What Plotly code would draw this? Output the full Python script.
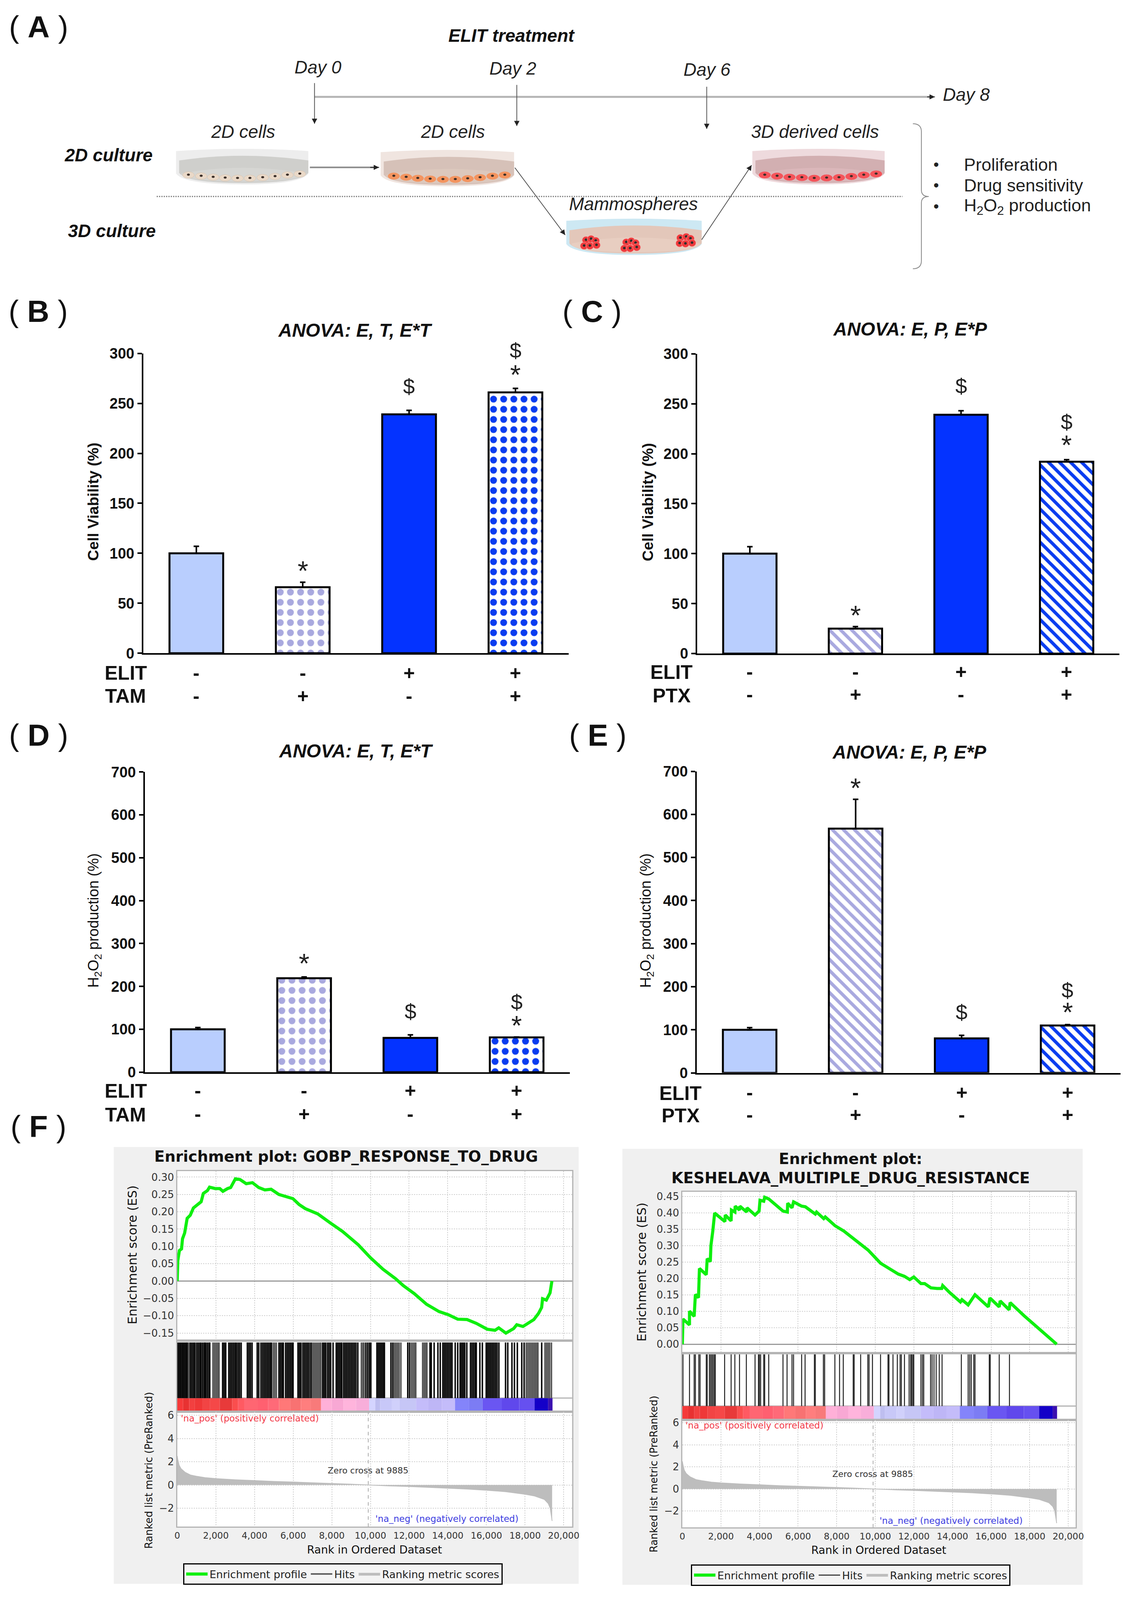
import plotly.graph_objects as go

# the browser only shows 4096 px of height, so the layout is squeezed to that
W, H = 2890, 4080
PAGE = 8  # default margin of the page body
VS = 4096 / 4358
SANS = "Liberation Sans"
JAVA = "DejaVu Sans"

# bar panels
cats_t = ["Control", "TAM", "ELIT", "ELIT+TAM"]
cats_p = ["Control", "PTX", "ELIT", "ELIT+PTX"]
elit_signs = ["-", "-", "+", "+"]
drug_signs = ["-", "+", "-", "+"]

viab_t = [100, 66, 239, 261]
viab_t_err = [7, 5, 4, 4]
viab_p = [100, 25, 239, 192]
viab_p_err = [7, 2, 4, 2]
h2o2_t = [100, 219, 80, 81]
h2o2_t_err = [4, 3, 7, 1]
h2o2_p = [100, 567, 80, 110]
h2o2_p_err = [5, 68, 7, 2]

sig_b_x = ["TAM", "ELIT", "ELIT+TAM", "ELIT+TAM"]
sig_b_y = [87.6, 267, 303, 284]
sig_b_text = ["*", "$", "$", "*"]
sig_c_x = ["PTX", "ELIT", "ELIT+PTX", "ELIT+PTX"]
sig_c_y = [43.6, 268, 232, 214]
sig_c_text = ["*", "$", "$", "*"]
sig_d_x = ["TAM", "ELIT", "ELIT+TAM", "ELIT+TAM"]
sig_d_y = [266, 142, 164, 121]
sig_d_text = ["*", "$", "$", "*"]
sig_e_x = ["PTX", "ELIT", "ELIT+PTX", "ELIT+PTX"]
sig_e_y = [673, 141, 192, 153]
sig_e_text = ["*", "$", "$", "*"]

# enrichment plots
es1_rank = [0, 32, 113, 225, 274, 386, 515, 676, 837, 998, 1239, 1352, 1561, 1673, 1963, 2204, 2365, 2607,
            2767, 3009, 3250, 3572, 3894, 4216, 4537, 4859, 5261, 5985, 6307, 6629, 7273, 7916, 8560, 9364,
            10008, 10652, 11295, 11697, 12261, 12904, 13548, 14030, 14513, 14996, 15478, 16042, 16444, 16637,
            17007, 17409, 17570, 17892, 18133, 18455, 18697, 18857, 18906, 19099, 19292, 19388]
es1_val = [0, .059, .088, .093, .122, .139, .181, .190, .211, .219, .229, .253, .261, .271, .267, .267, .259,
           .267, .270, .295, .293, .281, .284, .270, .263, .265, .250, .238, .221, .209, .194, .168, .143, .105,
           .067, .034, .007, -.013, -.036, -.067, -.088, -.097, -.110, -.111, -.122, -.139, -.142, -.135, -.150,
           -.137, -.126, -.131, -.122, -.111, -.093, -.076, -.051, -.055, -.034, 0]
es2_rank = [0, 32, 370, 370, 612, 644, 676, 837, 886, 1240, 1288, 1449, 1481, 1578, 1674, 2206, 2222, 2528, 2544,
            2721, 2737, 2962, 2979, 3333, 3349, 3767, 3977, 4025, 4218, 4267, 4476, 5216, 5442, 5458, 5683, 5764,
            6182, 6376, 6891, 6955, 7326, 7406, 7921, 8372, 8855, 9258, 9628, 10272, 10658, 11190, 11512, 11785,
            11995, 12365, 12558, 12880, 13202, 13444, 13492, 13846, 14410, 14490, 14812, 15166, 15859, 15939,
            16422, 16470, 16937, 16986, 17710, 19401]
es2_val = [0, .077, .059, .101, .085, .123, .152, .142, .231, .212, .261, .252, .301, .345, .400, .374, .394, .376,
           .409, .403, .421, .409, .421, .403, .416, .394, .406, .439, .436, .448, .443, .406, .403, .430, .416,
           .434, .421, .419, .397, .403, .383, .388, .361, .345, .322, .305, .287, .247, .234, .214, .207, .197,
           .205, .185, .185, .172, .170, .170, .179, .158, .129, .136, .120, .151, .114, .141, .114, .132, .105,
           .127, .087, 0]

hits1_dark = [40, 110, 180, 250, 320, 390, 460, 510, 690, 770, 850, 920, 1010, 1090, 1170, 1230, 1310, 1390, 1430,
              1490, 1570, 1650, 1685, 2350, 2430, 2510, 2670, 2750, 2830, 2910, 2990, 3060, 3145, 3225, 3310, 3630,
              3710, 3790, 3875, 4140, 4220, 4335, 4420, 4500, 4580, 4660, 4740, 4820, 4875, 5265, 5345, 5425, 5490,
              5610, 5690, 5770, 5850, 5930, 5995, 6250, 6330, 6405, 6505, 6585, 6665, 6745, 6825, 6915, 7525, 7605,
              7685, 7780, 7860, 7940, 8065, 8230, 8310, 8390, 8470, 8515, 8610, 8690, 8770, 8850, 8930, 9010, 9090,
              9170, 9250, 9345, 9760, 9855, 9945, 10020, 10335, 10415, 10495, 10575, 10655, 10722, 11060, 11155,
              11930, 12025, 13080, 13145, 13295, 13490, 13610, 13745, 13825, 13905, 13985, 14065, 14145, 14220,
              14385, 14515, 14640, 14720, 14800, 14880, 14985, 15175, 15255, 15335, 15415, 15475, 15660, 15790,
              15990, 16070, 16150, 16230, 16310, 16390, 16470, 16550, 16645, 16990, 17105, 17320, 17450, 17600,
              17830, 17950, 18860]
hits1_gray = [560, 630, 1850, 1930, 2010, 2090, 2165, 4970, 5050, 5130, 6980, 7060, 7140, 7220, 7300, 7380, 7430,
              9530, 9610, 9665, 11240, 11320, 11400, 11480, 11575, 12120, 12200, 12280, 12345, 12700, 12780, 12860,
              12920, 18060, 18140, 18220, 18300, 18380, 18460, 18540, 18620, 18665, 19030, 19110, 19190, 19270, 19365]
hits2 = [32, 370, 612, 676, 853, 918, 1240, 1288, 1401, 1465, 1530, 1594, 1658, 1707, 2190, 2528, 2721, 2962, 3317,
         3767, 3945, 3993, 4057, 4218, 4267, 4476, 5216, 5426, 5683, 5764, 6182, 6360, 6843, 6891, 7309, 7374, 7905,
         8147, 8340, 8855, 8903, 9241, 9612, 9676, 9853, 10272, 10658, 10707, 10916, 11141, 11286, 11351, 11512,
         11753, 11834, 11882, 11946, 11995, 12365, 12445, 12510, 12864, 12944, 13041, 13154, 13315, 13460, 14458,
         14812, 14893, 14973, 15102, 15166, 15907, 15955, 16422, 16953]

band_edges = [0, 300, 620, 900, 1300, 1700, 2200, 2845, 3150, 3480, 4150, 4700, 5270, 5850, 6400, 6900, 7440, 8000,
              8600, 9250, 9930, 10250, 10500, 11100, 11500, 12360, 13000, 13700, 14377, 15100, 15806, 16800, 17700,
              18488, 19190, 19420]
band_colors = ["#F53A3A", "#E83232", "#F24040", "#EF3838", "#F24444", "#F54848", "#E83A3A", "#FA4E4E", "#FF5A62",
               "#FF6672", "#FF6070", "#FF6A78", "#FF7878", "#F87272", "#FF7E7E", "#F87A7A", "#FFB0D8", "#F8A8D4",
               "#FFB4DC", "#F8AEDA", "#D4D4FF", "#BEBEF0", "#C8C8F8", "#D0D0FB", "#C6C6F6", "#C4BCFA", "#BEB6F6",
               "#C4BCFA", "#8484FA", "#7C7CF4", "#6A56F2", "#6048EC", "#6650F0", "#1400C8", "#3A10B0"]

metric_rank = [0, 30, 100, 200, 400, 700, 1000, 1500, 2000, 3000, 4000, 5000, 6000, 7000, 8000, 9000, 9885, 11000,
               12000, 13000, 14000, 15000, 16000, 17000, 18000, 18500, 19000, 19200, 19300, 19400]
metric_val = [2.5, 2.2, 1.7, 1.4, 1.1, .85, .75, .62, .55, .45, .38, .3, .25, .2, .13, .07, 0, -.08, -.13, -.2,
              -.28, -.35, -.45, -.58, -.8, -.95, -1.25, -1.6, -2.0, -3.1]

rank_ticks = [0, 2000, 4000, 6000, 8000, 10000, 12000, 14000, 16000, 18000, 20000]
es1_ticks = [-.15, -.10, -.05, 0, .05, .10, .15, .20, .25, .30]
es2_ticks = [0, .05, .10, .15, .20, .25, .30, .35, .40, .45]
metric_ticks = [-2, 0, 2, 4, 6]

# schematic: cell centres of each dish
cells_a_x = [480, 513, 544, 575, 607, 639, 672, 704, 736, 768]
cells_a_y = [459, 462, 465, 467, 468, 468, 466, 463, 459, 456]
cells_b_x = [1011, 1043, 1073, 1105, 1138, 1170, 1202, 1234, 1266, 1298]
cells_b_y = [462, 465, 468, 470, 471, 471, 469, 466, 462, 459]
cells_c_x = [1970, 2002, 2034, 2066, 2098, 2130, 2162, 2194, 2226, 2258]
cells_c_y = [459, 462, 465, 466, 468, 467, 466, 463, 459, 456]
sphere_x = [1508, 1521, 1533, 1503, 1518, 1535, 1612, 1625, 1636, 1607, 1622, 1639, 1752, 1767, 1778, 1750, 1765, 1782]
sphere_y = [638, 635, 640, 654, 654, 652, 644, 641, 646, 661, 661, 658, 632, 629, 634, 647, 648, 646]


def px(x):
    return (x - PAGE) / W


def py(y):
    return 1 - (y * VS - PAGE) / H


shapes = []
notes = []


def note(text, x, y, size, color="black", family=SANS, anchor="center", angle=0):
    notes.append(dict(text=text, x=px(x), y=py(y), xref="paper", yref="paper", showarrow=False, xanchor=anchor,
                      yanchor="middle", textangle=angle, font=dict(size=size, color=color, family=family)))


def line(x0, y0, x1, y1, color, width, dash="solid"):
    shapes.append(dict(type="line", xref="paper", yref="paper", x0=px(x0), y0=py(y0), x1=px(x1), y1=py(y1),
                       line=dict(color=color, width=width, dash=dash), layer="below"))


def rect(x0, y0, x1, y1, fill, border=None, width=0):
    shapes.append(dict(type="rect", xref="paper", yref="paper", x0=px(x0), y0=py(y0), x1=px(x1), y1=py(y1),
                       fillcolor=fill, line=dict(color=border or fill, width=width), layer="below"))


def path(points, fill=None, color=None, width=0):
    # points are (command, x, y, ...) in page pixels
    d = ""
    for p in points:
        d += p[0]
        coords = p[1:]
        for i in range(0, len(coords), 2):
            d += f" {px(coords[i]):.5f},{py(coords[i + 1]):.5f} "
    d += "Z" if fill else ""
    shapes.append(dict(type="path", xref="paper", yref="paper", path=d, fillcolor=fill or "rgba(0,0,0,0)",
                       line=dict(color=color or "rgba(0,0,0,0)", width=width), layer="below"))


def ellipse(cx, cy, rx, ry, fill, border=None):
    shapes.append(dict(type="circle", xref="paper", yref="paper", x0=px(cx - rx), x1=px(cx + rx), y0=py(cy - ry),
                       y1=py(cy + ry), fillcolor=fill, line=dict(color=border or fill, width=1), layer="below"))


def arrow(x0, y0, x1, y1, color="#555555", width=2, head="#222222"):
    line(x0, y0, x1, y1, color, width)
    dx, dy = x1 - x0, y1 - y0
    size = (dx * dx + dy * dy) ** 0.5
    ux, uy = dx / size, dy / size
    bx, by = x1 - ux * 14, y1 - uy * 14
    path([("M", x1, y1), ("L", bx - uy * 7, by + ux * 7), ("L", bx + uy * 7, by - ux * 7)], fill=head)


def dish(x0, x1, top, bottom, rim, water, floor):
    xm = (x0 + x1) / 2
    path([("M", x0, top + 6), ("Q", xm, top - 6, x1, top + 6), ("L", x1, bottom - 30),
          ("Q", x1 - 20, bottom, xm, bottom), ("Q", x0 + 20, bottom, x0, bottom - 30)], fill=rim)
    path([("M", x0 + 8, top + 32), ("Q", xm, top + 6, x1, top + 32), ("L", x1, bottom - 32),
          ("Q", x1 - 20, bottom - 4, xm, bottom - 4), ("Q", x0 + 28, bottom - 4, x0 + 8, bottom - 32)], fill=water)
    path([("M", x0 + 14, top + 68), ("Q", xm, top + 36, x1 - 4, top + 68), ("L", x1 - 4, bottom - 28),
          ("Q", x1 - 30, bottom - 8, xm, bottom - 8), ("Q", x0 + 30, bottom - 8, x0 + 14, bottom - 28)], fill=floor)


fig = go.Figure()

# ---- panel A ----
dish(448, 790, 387, 485, "#EDEDED", "#CFCFCC", "#D6D6D3")
dish(977, 1322, 390, 490, "#F0E5E0", "#D6C1B8", "#DCC8BD")
dish(1938, 2280, 387, 485, "#EEDADD", "#D2AFB1", "#DBB7BA")
dish(1457, 1807, 579, 679, "#CDE8F3", "#E3C7BA", "#E8CEC1")
for cx, cy in zip(cells_a_x, cells_a_y):
    ellipse(cx, cy, 15, 9, "#EAD9C8", "#D8C4B0")
    ellipse(cx, cy - 1, 3.5, 2.5, "#3A2E28")
for cx, cy in zip(cells_b_x, cells_b_y):
    ellipse(cx, cy, 15, 9, "#F3945F")
    ellipse(cx, cy - 1, 3.5, 2.5, "#3A2E28")
for cx, cy in zip(cells_c_x, cells_c_y):
    ellipse(cx, cy, 15, 9, "#F4545A")
    ellipse(cx, cy - 1, 3.5, 2.5, "#3A2E28")
for cx, cy in zip(sphere_x, sphere_y):
    ellipse(cx, cy, 10, 10, "#EE3A3C", "#F8A0A0")
    ellipse(cx, cy - 1, 3, 3, "#2E2E2E")

line(806, 244, 2400, 244, "#B4B4B4", 5)
arrow(2390, 244, 2410, 244, "#222222", 2)
arrow(806, 206, 806, 318)
arrow(1329, 211, 1329, 324)
arrow(1820, 216, 1820, 332)
line(794, 438, 960, 438, "#8A8A8A", 4)
arrow(950, 438, 973, 438, "#222222", 2)
arrow(1324, 439, 1454, 624)
arrow(1807, 637, 1936, 432)
line(398, 518, 2326, 518, "#777777", 3, "dot")
path([("M", 2353, 318), ("Q", 2375, 318, 2375, 340), ("L", 2375, 500), ("Q", 2375, 518, 2394, 518),
      ("Q", 2375, 518, 2375, 536), ("L", 2375, 695), ("Q", 2375, 717, 2353, 717)], color="#888888", width=2)

note("<b><i>ELIT treatment</i></b>", 1316, 75, 46, "#111111")
note("<i>Day 0</i>", 815, 162, 46, "#222222")
note("<i>Day 2</i>", 1319, 165, 46, "#222222")
note("<i>Day 6</i>", 1821, 169, 46, "#222222")
note("<i>Day 8</i>", 2492, 238, 46, "#222222")
note("<i>2D cells</i>", 621, 340, 46, "#222222")
note("<i>2D cells</i>", 1164, 340, 46, "#222222")
note("<i>3D derived cells</i>", 2100, 340, 46, "#222222")
note("<b><i>2D culture</i></b>", 274, 404, 46, "#111111")
note("<b><i>3D culture</i></b>", 282, 613, 46, "#111111")
note("<i>Mammospheres</i>", 1631, 538, 46, "#222222")
for text, y in [("Proliferation", 430), ("Drug sensitivity", 487), ("H<sub>2</sub>O<sub>2</sub> production", 545)]:
    note("•", 2413, y, 40, "#222222")
    note(text, 2483, y, 45, "#222222", anchor="left")

for text, x, y in [("A", 93, 52), ("B", 92, 834), ("C", 1524, 834), ("D", 93, 2001), ("E", 1538, 2001), ("F", 92, 3078)]:
    note(f"( <b>{text}</b> )", x, y, 78, "#111111")


# ---- bar panels B to E ----
def bar_panel(n, cats, vals, errs, sig_x, sig_y, sig_text, left, right, top, bottom, ymax, ydtick, drug, texts):
    xa, ya = f"x{n}", f"y{n}"
    light, blue = "#B9CEFE", "#0433FF"
    shape = "\\" if drug == "PTX" else "."
    styles = [(light, light, "", "white"), ("white", "#A9A9DF", shape, "white"), (blue, blue, "", "white"),
              ("white", "#0A3CF0", shape, "white")]
    for i, c in enumerate(cats):
        fill, fg, pat, bg = styles[i]
        fig.add_trace(go.Bar(
            x=[c], y=[vals[i]], xaxis=xa, yaxis=ya, width=0.505, showlegend=False,
            marker=dict(color=fill, line=dict(color="black", width=5),
                        pattern=dict(shape=pat, fgcolor=fg, fgopacity=1, bgcolor=bg, size=20 if drug == "PTX" else 26,
                                     solidity=0.42 if drug == "PTX" else 0.36)),
            error_y=dict(type="data", array=[errs[i]], arrayminus=[0], symmetric=False, color="black", thickness=4,
                         width=7)))
    per_unit = (bottom - top) / ymax
    for sx, sy, st in zip(sig_x, sig_y, sig_text):
        y_px = bottom - sy * per_unit
        if st == "*":
            notes.append(dict(text=st, x=sx, y=py(y_px + 15), xref=xa, yref="paper", showarrow=False, xanchor="center",
                              yanchor="middle", font=dict(size=70, family=SANS, color="#222222")))
        else:
            notes.append(dict(text=st, x=sx, y=py(y_px), xref=xa, yref="paper", showarrow=False, xanchor="center",
                              yanchor="middle", font=dict(size=54, family=SANS, color="#222222")))
    suffix = "" if n == 1 else str(n)
    fig.update_layout({
        f"xaxis{suffix}": dict(domain=[px(left), px(right)], anchor=ya, type="category", categoryorder="array",
                               categoryarray=cats, range=[-0.5, 3.5], showticklabels=False, ticks="",
                               showline=True, linecolor="black", linewidth=4, showgrid=False, zeroline=False),
        f"yaxis{suffix}": dict(domain=[py(bottom), py(top)], anchor=xa, range=[0, ymax], dtick=ydtick, ticks="outside",
                               ticklen=11, tickwidth=4, tickcolor="black", showline=True, linecolor="black", linewidth=4,
                               showgrid=False, zeroline=False,
                               tickfont=dict(size=38, family=SANS, color="#111111", weight="bold")),
    })
    note(f"<b><i>{texts['title']}</i></b>", texts["title_x"], texts["title_y"], 48, "#111111")
    note(texts["ylabel"], texts["ylabel_x"], (top + bottom) / 2 + texts["ylabel_dy"], texts["ylabel_size"], "#111111",
         angle=-90)
    note("<b>ELIT</b>", texts["row_x"], texts["row1"], 50, "#111111")
    note(f"<b>{drug}</b>", texts["row_x"], texts["row2"], 50, "#111111")
    for i, c in enumerate(cats):
        notes.append(dict(text=f"<b>{elit_signs[i]}</b>", x=c, y=py(texts["sign1"]), xref=xa, yref="paper", showarrow=False,
                          xanchor="center", yanchor="middle", font=dict(size=50, family=SANS, color="#111111")))
        notes.append(dict(text=f"<b>{drug_signs[i]}</b>", x=c, y=py(texts["sign2"]), xref=xa, yref="paper", showarrow=False,
                          xanchor="center", yanchor="middle", font=dict(size=50, family=SANS, color="#111111")))


bar_panel(1, cats_t, viab_t, viab_t_err, sig_b_x, sig_b_y, sig_b_text, 363, 1463, 950, 1775, 300, 50, "TAM",
          dict(title="ANOVA: E, T, E*T", title_x=911, title_y=886, ylabel="<b>Cell Viability (%)</b>", ylabel_x=234,
               ylabel_dy=-5, ylabel_size=39, row_x=318, row1=1830, row2=1893, sign1=1830, sign2=1893))
bar_panel(2, cats_p, viab_p, viab_p_err, sig_c_x, sig_c_y, sig_c_text, 1795, 2887, 951, 1776, 300, 50, "PTX",
          dict(title="ANOVA: E, P, E*P", title_x=2346, title_y=883, ylabel="<b>Cell Viability (%)</b>", ylabel_x=1668,
               ylabel_dy=-5, ylabel_size=39, row_x=1729, row1=1828, row2=1892, sign1=1826, sign2=1889))
bar_panel(3, cats_t, h2o2_t, h2o2_t_err, sig_d_x, sig_d_y, sig_d_text, 367, 1466, 2102, 2928, 700, 100, "TAM",
          dict(title="ANOVA: E, T, E*T", title_x=913, title_y=2044, ylabel="H<sub>2</sub>O<sub>2</sub> production (%)",
               ylabel_x=237, ylabel_dy=-4, ylabel_size=38, row_x=318, row1=2980, row2=3046, sign1=2979, sign2=3043))
bar_panel(4, cats_p, h2o2_p, h2o2_p_err, sig_e_x, sig_e_y, sig_e_text, 1794, 2890, 2100, 2930, 700, 100, "PTX",
          dict(title="ANOVA: E, P, E*P", title_x=2344, title_y=2047, ylabel="H<sub>2</sub>O<sub>2</sub> production (%)",
               ylabel_x=1665, ylabel_dy=-4, ylabel_size=38, row_x=1752, row1=2986, row2=3048, sign1=2984, sign2=3046))


# ---- panel F ----
def gsea(n, es_rank, es_val, es_ticks, es_range, hit_sets, hit_width, box, legend_name):
    left, right, top, es_bottom, band_top, band_bottom, plot_bottom = box["plot"]
    rect(box["panel"][0], box["panel"][1], box["panel"][2], box["panel"][3], "#F0F0F0")
    rect(left, top, right, plot_bottom, "white")
    xmax = box["xmax"]
    grid = dict(gridcolor="#CFCFCF", griddash="dot", gridwidth=2, showgrid=True)
    frame = dict(showline=True, linecolor="#B4B4B4", linewidth=3, mirror=True)
    tick_font = dict(size=26, family=JAVA, color="#333333")

    # enrichment score
    fig.add_trace(go.Scatter(x=es_rank, y=es_val, mode="lines", xaxis=f"x{n}", yaxis=f"y{n}", name="Enrichment profile",
                             legend=legend_name, line=dict(color="#0FEF0F", width=8)))
    # hits and the colour band
    hit_top = box["hit_top"]
    for k, (hits, color) in enumerate(hit_sets):
        xs, ys = [], []
        for r in hits:
            xs += [r, r, None]
            ys += [1, hit_top, None]
        fig.add_trace(go.Scatter(x=xs, y=ys, mode="lines", xaxis=f"x{n + 1}", yaxis=f"y{n + 1}", name="Hits",
                                 legend=legend_name, showlegend=k == 0, line=dict(color=color, width=hit_width)))
    centers = [(a + b) / 2 for a, b in zip(band_edges[:-1], band_edges[1:])]
    widths = [b - a for a, b in zip(band_edges[:-1], band_edges[1:])]
    fig.add_trace(go.Bar(x=centers, y=[1] * len(centers), width=widths, xaxis=f"x{n + 1}", yaxis=f"y{n + 1}",
                         showlegend=False, marker=dict(color=band_colors, line=dict(width=0))))
    # ranked metric
    fig.add_trace(go.Scatter(x=[9885, 9885], y=box["metric_range"], mode="lines", xaxis=f"x{n + 2}", yaxis=f"y{n + 2}",
                             showlegend=False, line=dict(color="#AAAAAA", width=2, dash="dash")))
    fig.add_trace(go.Scatter(x=metric_rank, y=metric_val, mode="lines", xaxis=f"x{n + 2}", yaxis=f"y{n + 2}", fill="tozeroy",
                             fillcolor="#BDBDBD", name="Ranking metric scores", legend=legend_name,
                             line=dict(color="#BDBDBD", width=2)))
    fig.update_layout({
        f"xaxis{n}": dict(domain=[px(left), px(right)], anchor=f"y{n}", range=[0, xmax], tickvals=rank_ticks,
                          showticklabels=False, zeroline=False, **grid, **frame),
        f"yaxis{n}": dict(domain=[py(es_bottom), py(top)], anchor=f"x{n}", range=es_range, tickvals=es_ticks,
                          tickformat=".2f", ticks="", tickfont=tick_font, zeroline=True, zerolinecolor="#9A9A9A",
                          zerolinewidth=3, **grid, **frame),
        f"xaxis{n + 1}": dict(domain=[px(left), px(right)], anchor=f"y{n + 1}", range=[0, xmax], showticklabels=False,
                              showgrid=False, zeroline=False, ticks="", **frame),
        f"yaxis{n + 1}": dict(domain=[py(band_bottom), py(es_bottom)], anchor=f"x{n + 1}", range=[0, box["hit_range"]],
                              showticklabels=False, showgrid=False, zeroline=False, ticks="", **frame),
        f"xaxis{n + 2}": dict(domain=[px(left), px(right)], anchor=f"y{n + 2}", range=[0, xmax], tickvals=rank_ticks,
                              tickformat=",d", ticks="", tickfont=dict(size=23, family=JAVA, color="#333333"), zeroline=False,
                              **grid, **frame),
        f"yaxis{n + 2}": dict(domain=[py(plot_bottom), py(band_bottom)], anchor=f"x{n + 2}", range=box["metric_range"],
                              tickvals=metric_ticks, ticks="", tickfont=tick_font, zeroline=False, **grid, **frame),
    })
    line(left, band_top, right, band_top, "#B4B4B4", 3)

    for text, y in box["titles"]:
        note(f"<b>{text}</b>", box["title_x"], y, 39, "#111111", JAVA)
    note("Enrichment score (ES)", box["es_label"][0], box["es_label"][1], 32, "#111111", JAVA, angle=-90)
    note("Ranked list metric (PreRanked)", box["metric_label"][0], box["metric_label"][1], 26, "#111111", JAVA, angle=-90)
    note("Rank in Ordered Dataset", box["x_label"][0], box["x_label"][1], 28, "#111111", JAVA)
    note("'na_pos' (positively correlated)", box["pos"][0], box["pos"][1], 23, "#F23A48", JAVA, anchor="left")
    note("'na_neg' (negatively correlated)", box["neg"][0], box["neg"][1], 23, "#3C3CE0", JAVA, anchor="left")
    note("Zero cross at 9885", box["zero"][0], box["zero"][1], 22, "#333333", JAVA)


gsea(5, es1_rank, es1_val, es1_ticks, [-.172, .3177], [(hits1_gray, "#555555"), (hits1_dark, "#0A0A0A")], 3.8,
     dict(panel=(287, 3134, 1489, 4336), plot=(451, 1472, 3200, 3667, 3825, 3863, 4179), xmax=20434, hit_range=5.16,
          hit_top=5.03, metric_range=[-3.6, 6.3], titles=[("Enrichment plot: GOBP_RESPONSE_TO_DRUG", 3160)], title_x=888,
          es_label=(335, 3431), metric_label=(378, 4024), x_label=(961, 4242), pos=(458, 3881), neg=(961, 4157),
          zero=(945, 4024)), "legend")
gsea(8, es2_rank, es2_val, es2_ticks, [-.0267, .465], [(hits2, "#222222")], 2.5,
     dict(panel=(1602, 3139, 2792, 4339), plot=(1757, 2774, 3257, 3701, 3847, 3885, 4181), xmax=20386, hit_range=4.84,
          hit_top=4.74, metric_range=[-3.49, 6.26],
          titles=[("Enrichment plot:", 3166), ("KESHELAVA_MULTIPLE_DRUG_RESISTANCE", 3219)], title_x=2192,
          es_label=(1652, 3478), metric_label=(1683, 4034), x_label=(2265, 4244), pos=(1763, 3900), neg=(2265, 4162),
          zero=(2249, 4034)), "legend2")

legend_style = dict(orientation="h", xanchor="left", yanchor="top", bgcolor="#F4F4F4", bordercolor="black", borderwidth=3,
                    font=dict(size=27, family=JAVA, color="#222222"), itemwidth=55, tracegroupgap=0)

fig.update_layout(
    width=W, height=H, margin=dict(l=0, r=0, t=0, b=0), paper_bgcolor="white", plot_bgcolor="white",
    barmode="overlay", shapes=shapes, annotations=notes,
    legend=dict(x=px(466), y=py(4280), **legend_style),
    legend2=dict(x=px(1779), y=py(4283), **legend_style),
)

fig.write_html("out.html")
